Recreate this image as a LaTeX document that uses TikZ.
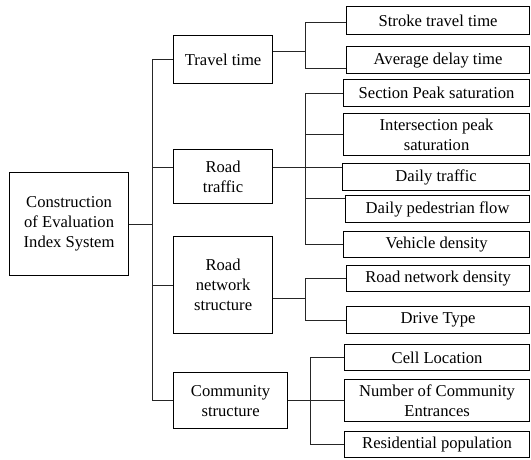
\documentclass[tikz,border=0pt]{standalone}
\usepackage{fontspec}
\setmainfont{Liberation Serif}
\usetikzlibrary{calc}
\begin{document}
\begin{tikzpicture}[x=1pt,y=-1pt,
  box/.style={draw=black, line width=1.2pt, anchor=north west, align=center,
    inner sep=1pt, font=\fontsize{16.6}{20}\selectfont},
  link/.style={draw=black!85, line width=0.8pt}]
\useasboundingbox (0,0) rectangle (531,459);

% root of the hierarchy
\node[box, minimum width=119, minimum height=103] (root) at (9,172)
  {Construction\\of Evaluation\\Index System};

% first-level criteria
\node[box, minimum width=99, minimum height=48] (tt) at (173,35) {Travel time};
\node[box, minimum width=99, minimum height=54] (rt) at (173,149) {Road\\traffic};
\node[box, minimum width=99, minimum height=97] (rn) at (173,236) {Road\\network\\structure};
\node[box, minimum width=114, minimum height=56] (cs) at (173,372) {Community\\structure};

% second-level indicators
\node[box, minimum width=183, minimum height=28] (l1) at (346,6) {Stroke travel time};
\node[box, minimum width=183, minimum height=27] (l2) at (346,46) {Average delay time};
\node[box, minimum width=186, minimum height=27] (l3) at (343,79) {Section Peak saturation};
\node[box, minimum width=186, minimum height=42] (l4) at (343,113) {Intersection peak\\saturation};
\node[box, minimum width=187, minimum height=27] (l5) at (342,163) {Daily traffic};
\node[box, minimum width=184, minimum height=27] (l6) at (345,195) {Daily pedestrian flow};
\node[box, minimum width=186, minimum height=26] (l7) at (343,231) {Vehicle density};
\node[box, minimum width=183, minimum height=26] (l8) at (346,265) {Road network density};
\node[box, minimum width=183, minimum height=27] (l9) at (346,306) {Drive Type};
\node[box, minimum width=185, minimum height=26] (l10) at (344,344) {Cell Location};
\node[box, minimum width=185, minimum height=42] (l11) at (344,379) {Number of Community\\Entrances};
\node[box, minimum width=185, minimum height=26] (l12) at (344,431) {Residential population};

% entry points that sit off the box centres
\coordinate (l5in) at ($(l5.north west)!0.14!(l5.south west)$);
\coordinate (l6in) at ($(l6.north west)!0.11!(l6.south west)$);
\coordinate (ttout) at ($(tt.north east)!0.33!(tt.south east)$);
\coordinate (l2in) at ($(l2.west)+(0,8)$);
\coordinate (l1in) at ($(l1.west)+(0,2)$);
\coordinate (rnout) at ($(rn.east)+(0,13)$);

% trunk from the root to the criteria
\draw[link] (tt.west) -- ++(-21,0) coordinate (trk) |- (cs.west);
\draw[link] (root.east) -- (root.east -| trk);
\draw[link] (l5in -| trk) -- (l5in -| rt.west);
\draw[link] (rn.west -| trk) -- (rn.west);

% travel time bracket
\draw[link] (ttout) -- ++(32,0) coordinate (b1);
\draw[link] (l1in) -| (b1) |- (l2in);

% road traffic bracket
\draw[link] (l5in -| rt.east) -- (l5in);
\draw[link] (l3.west) -- ++(-38,0) coordinate (b2) |- (l7.west);
\draw[link] (l4.west -| b2) -- (l4.west);
\draw[link] (l6in -| b2) -- (l6in);

% road network bracket
\draw[link] (rnout) -- ++(32,0) coordinate (b3);
\draw[link] (l8.west) -| (b3) |- (l9.west);

% community bracket
\draw[link] (cs.east) -- (l11.west);
\draw[link] (l10.west) -- ++(-34,0) |- (l12.west);
\end{tikzpicture}
\end{document}
